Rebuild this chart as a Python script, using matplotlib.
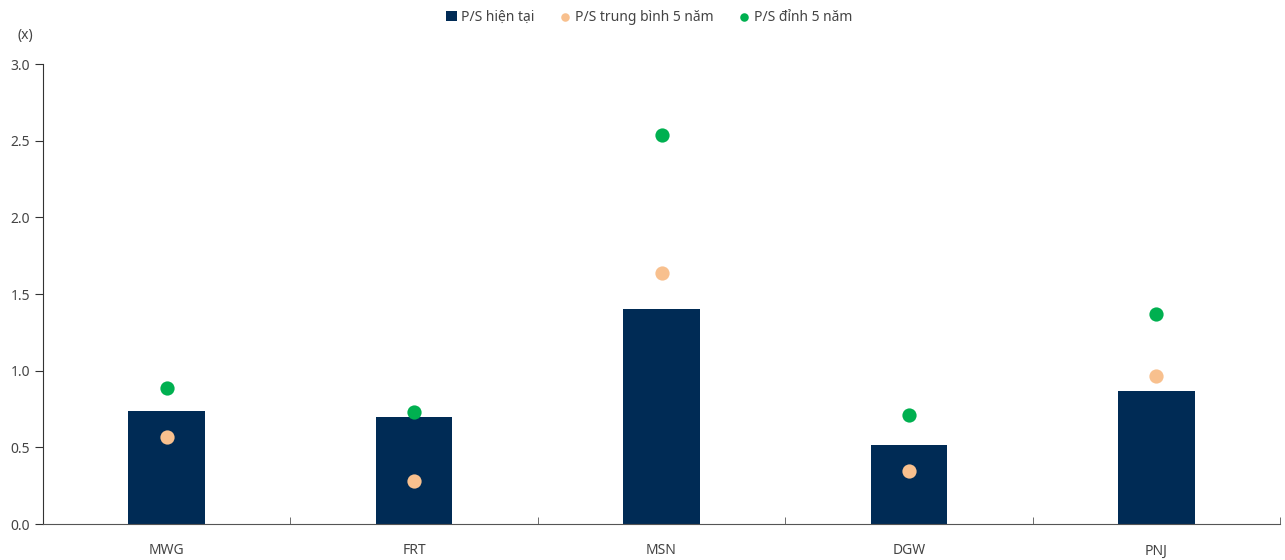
import matplotlib
matplotlib.use("Agg")
import matplotlib.pyplot as plt
import numpy as np

# Dati
ticker = ["MWG", "FRT", "MSN", "DGW", "PNJ"]
ps_hien_tai = [0.74, 0.70, 1.40, 0.515, 0.87]
ps_trung_binh = [0.57, 0.28, 1.64, 0.345, 0.965]
ps_dinh = [0.89, 0.73, 2.54, 0.71, 1.37]

plt.rcParams['font.family'] = ['Noto Sans', 'DejaVu Sans']
GRIGIO = "#444444"

fig = plt.figure(figsize=(12.85, 5.6), dpi=100)
ax = fig.add_axes([43 / 1285, 36 / 560, 1237 / 1285, 460 / 560])

x = np.arange(len(ticker))
barre = ax.bar(x, ps_hien_tai, width=0.31, color="#002b55", label="P/S hiện tại", zorder=2)
medi = ax.scatter(x, ps_trung_binh, s=105, color="#f8c08e", label="P/S trung bình 5 năm", zorder=3, linewidths=0)
picchi = ax.scatter(x, ps_dinh, s=105, color="#00b050", label="P/S đỉnh 5 năm", zorder=3, linewidths=0)

ax.set_xlim(-0.5, len(ticker) - 0.5)
ax.set_ylim(0, 3.0)
ax.set_yticks(np.arange(0, 3.01, 0.5))
ax.set_yticklabels([f"{v:.1f}" for v in np.arange(0, 3.01, 0.5)])

# tick maggiori invisibili sotto le etichette, tick minori ai confini
ax.set_xticks(x)
ax.set_xticklabels(ticker)
ax.tick_params(axis='x', which='major', length=0, pad=14, labelsize=10, labelcolor=GRIGIO)
ax.set_xticks(np.arange(0.5, len(ticker), 1.0), minor=True)
ax.tick_params(axis='x', which='minor', direction='in', length=5, color="#555555")
ax.tick_params(axis='y', direction='out', length=6, labelsize=10, labelcolor=GRIGIO, color="#333333")

for s in ["top", "right"]:
    ax.spines[s].set_visible(False)
ax.spines["left"].set_color("#333333")
ax.spines["bottom"].set_color("#555555")

fig.text(18 / 1285, 1 - 35 / 560, "(x)", fontsize=10, color=GRIGIO, va="center")

fig.legend(handles=[barre, medi, picchi], loc="upper center", bbox_to_anchor=(0.505, 1.005),
           ncol=3, frameon=False, fontsize=10, labelcolor=GRIGIO, handlelength=0.8,
           handletextpad=0.3, columnspacing=1.8, markerscale=0.6)

fig.savefig("out.png", dpi=100)
